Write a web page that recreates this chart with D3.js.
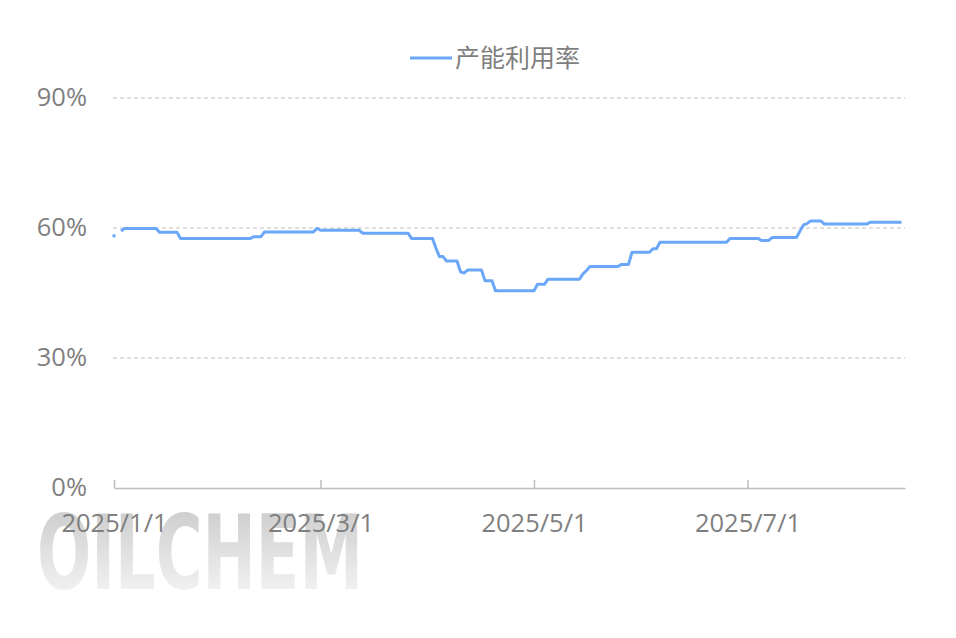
<!DOCTYPE html>
<html>
<head>
<meta charset="utf-8">
<script src="https://cdn.jsdelivr.net/npm/d3@7/dist/d3.min.js"></script>
<style>
  html, body { margin: 0; padding: 0; background: #fff; }
  svg { display: block; }
  text { font-family: "Open Sans", "Noto Sans CJK SC", sans-serif; }
</style>
</head>
<body>
<svg id="chart" width="956" height="638"></svg>
<script>
// ---- data ----
const seriesName = "产能利用率";
const startDate = "2025-01-01";
const endDate = "2025-08-15";
const xTickLabels = ["2025/1/1", "2025/3/1", "2025/5/1", "2025/7/1"];
const yTickValues = [0, 30, 60, 90];
// daily capacity utilisation (%), one value per day from 2025-01-01
const utilisation = [
  58.2, null, 59.3,
  59.9, 59.9, 59.9, 59.9, 59.9, 59.9, 59.9, 59.9, 59.9, 59.9,
  59.0, 59.0, 59.0, 59.0, 59.0, 59.0,
  57.6, 57.6, 57.6, 57.6, 57.6, 57.6, 57.6, 57.6, 57.6, 57.6, 57.6, 57.6, 57.6, 57.6, 57.6, 57.6, 57.6, 57.6, 57.6, 57.6, 57.6,
  58.0, 58.0, 58.0,
  59.1, 59.1, 59.1, 59.1, 59.1, 59.1, 59.1, 59.1, 59.1, 59.1, 59.1, 59.1, 59.1, 59.1, 59.1,
  59.9,
  59.5, 59.5, 59.5, 59.5, 59.5, 59.5, 59.5, 59.5, 59.5, 59.5, 59.5, 59.5,
  58.8, 58.8, 58.8, 58.8, 58.8, 58.8, 58.8, 58.8, 58.8, 58.8, 58.8, 58.8, 58.8, 58.8,
  57.6, 57.6, 57.6, 57.6, 57.6, 57.6, 57.6,
  55.3,
  53.4, 53.4,
  52.4, 52.4, 52.4, 52.4,
  49.9, 49.6,
  50.3, 50.3, 50.3, 50.3, 50.3,
  47.8, 47.8, 47.8,
  45.5, 45.5, 45.5, 45.5, 45.5, 45.5, 45.5, 45.5, 45.5, 45.5, 45.5, 45.5,
  47.0, 47.0, 47.0,
  48.2, 48.2, 48.2, 48.2, 48.2, 48.2, 48.2, 48.2, 48.2, 48.2,
  49.4, 50.2,
  51.1, 51.1, 51.1, 51.1, 51.1, 51.1, 51.1, 51.1, 51.1,
  51.6, 51.6, 51.6,
  54.4, 54.4, 54.4, 54.4, 54.4, 54.4,
  55.2, 55.2,
  56.7, 56.7, 56.7, 56.7, 56.7, 56.7, 56.7, 56.7, 56.7, 56.7, 56.7, 56.7, 56.7, 56.7, 56.7, 56.7, 56.7, 56.7, 56.7, 56.7,
  57.6, 57.6, 57.6, 57.6, 57.6, 57.6, 57.6, 57.6, 57.6,
  57.1, 57.1, 57.1,
  57.8, 57.8, 57.8, 57.8, 57.8, 57.8, 57.8, 57.8,
  59.3, 60.7, 61.0,
  61.6, 61.6, 61.6, 61.6,
  60.9, 60.9, 60.9, 60.9, 60.9, 60.9, 60.9, 60.9, 60.9, 60.9, 60.9, 60.9, 60.9,
  61.3, 61.3, 61.3, 61.3, 61.3, 61.3, 61.3, 61.3, 61.3, 61.3
];

// ---- chart ----
const parse = d3.timeParse("%Y-%m-%d");
const t0 = parse(startDate), t1 = parse(endDate);
const dates = d3.timeDay.range(t0, t1);
const data = utilisation.map((v, i) => ({ date: dates[i], value: v }));

const svg = d3.select("#chart");
const x = d3.scaleTime().domain([t0, t1]).range([114, 905]);
const y = d3.scaleLinear().domain([0, 90]).range([488, 98]);

const lineColor = "#6ba7f8";
const textColor = "#7f7f7f";
const fontSize = "25.5px";

// watermark
const defs = svg.append("defs");
const grad = defs.append("linearGradient").attr("id", "wm").attr("x1", 0).attr("y1", 0).attr("x2", 0).attr("y2", 1);
grad.append("stop").attr("offset", "0%").attr("stop-color", "#c6c6c6");
grad.append("stop").attr("offset", "100%").attr("stop-color", "#fbfbfb");
svg.append("text")
  .attr("x", 37).attr("y", 589)
  .attr("textLength", 326).attr("lengthAdjust", "spacingAndGlyphs")
  .style("font-family", "'DejaVu Sans Condensed', 'DejaVu Sans', sans-serif")
  .style("font-weight", "bold")
  .style("font-size", "104px")
  .attr("fill", "url(#wm)")
  .text("OILCHEM");

// gridlines
svg.append("g").selectAll("line")
  .data(yTickValues.filter(v => v > 0))
  .join("line")
  .attr("x1", 113).attr("x2", 905)
  .attr("y1", d => y(d)).attr("y2", d => y(d))
  .attr("stroke", "#c0c0c0").attr("stroke-width", 1)
  .attr("stroke-dasharray", "4,3");

// y labels
svg.append("g").selectAll("text")
  .data(yTickValues)
  .join("text")
  .attr("x", 87).attr("y", d => y(d))
  .attr("dy", "0.33em")
  .attr("text-anchor", "end")
  .attr("fill", textColor)
  .style("font-size", fontSize)
  .text(d => d + "%");

// x axis
const tickDates = xTickLabels.map(s => d3.timeParse("%Y/%m/%d")(s));
const xAxis = d3.axisBottom(x)
  .tickValues(tickDates)
  .tickSizeInner(-8).tickSizeOuter(0)
  .tickFormat((d, i) => xTickLabels[i]);
const gx = svg.append("g").attr("transform", "translate(0,488)").call(xAxis);
gx.select(".domain").attr("stroke", "#bcbcbc").attr("stroke-width", 1.5);
gx.selectAll(".tick line").attr("stroke", "#bcbcbc").attr("stroke-width", 1.5);
gx.selectAll(".tick text")
  .attr("y", 44).attr("dy", 0)
  .attr("fill", textColor)
  .style("font-family", "'Open Sans', sans-serif")
  .style("font-size", fontSize);

// line
const line = d3.line()
  .defined(d => d.value != null)
  .x(d => x(d.date)).y(d => y(d.value));
svg.append("path")
  .datum(data)
  .attr("fill", "none")
  .attr("stroke", lineColor)
  .attr("stroke-width", 3)
  .attr("stroke-linejoin", "round")
  .attr("d", line);

// isolated points
const isolated = data.filter((d, i) => d.value != null &&
  (i === 0 || data[i - 1].value == null) &&
  (i === data.length - 1 || data[i + 1].value == null));
svg.append("g").selectAll("rect")
  .data(isolated)
  .join("rect")
  .attr("x", d => x(d.date) - 1.5).attr("y", d => y(d.value) - 1.5)
  .attr("width", 3).attr("height", 3)
  .attr("fill", lineColor);

// legend
svg.append("line")
  .attr("x1", 410).attr("x2", 452).attr("y1", 58).attr("y2", 58)
  .attr("stroke", lineColor).attr("stroke-width", 3);
svg.append("text")
  .attr("x", 455).attr("y", 58).attr("dy", "0.35em")
  .attr("fill", textColor)
  .style("font-family", "'Noto Sans CJK SC', sans-serif")
  .style("font-size", "25px")
  .text(seriesName);
</script>
</body>
</html>
